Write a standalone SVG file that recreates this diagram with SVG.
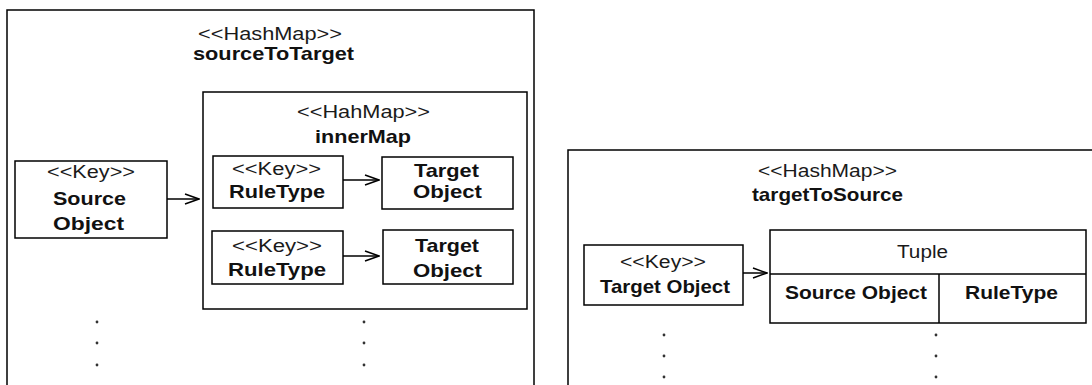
<svg xmlns="http://www.w3.org/2000/svg" width="1092" height="385" viewBox="0 0 1092 385">
  <style>
    .box { fill: #ffffff; stroke: #000000; stroke-width: 1.5; }
    .line { fill: none; stroke: #000000; stroke-width: 1.5; }
    .conn { fill: none; stroke: #000000; stroke-width: 1.5; marker-end: url(#open); }
    .t { font-family: "Liberation Sans", Arial, sans-serif; font-size: 17.5px; fill: #1a1a1a; text-anchor: start; }
    .b { font-family: "Liberation Sans", Arial, sans-serif; font-size: 19px; font-weight: bold; fill: #111111; text-anchor: start; }
    .dot { fill: #333333; }
  </style>
  <defs>
    <marker id="open" markerWidth="16" markerHeight="12" refX="15" refY="6" orient="auto" markerUnits="userSpaceOnUse">
      <path d="M1,1 L15,6 L1,11" fill="none" stroke="#000000" stroke-width="1.5"/>
    </marker>
  </defs>

  <rect width="1092" height="385" fill="#ffffff"/>

  <!-- sourceToTarget map -->
  <g id="sourceToTarget">
    <rect class="box" x="7" y="10" width="527" height="390"/>
    <text class="t" x="198" y="40" textLength="144" lengthAdjust="spacingAndGlyphs">&lt;&lt;HashMap&gt;&gt;</text>
    <text class="b" x="193" y="60" textLength="161" lengthAdjust="spacingAndGlyphs">sourceToTarget</text>
    <circle class="dot" cx="97" cy="322" r="1.4"/>
    <circle class="dot" cx="97" cy="343" r="1.4"/>
    <circle class="dot" cx="97" cy="365" r="1.4"/>
    <circle class="dot" cx="364" cy="322" r="1.4"/>
    <circle class="dot" cx="364" cy="343" r="1.4"/>
    <circle class="dot" cx="364" cy="365" r="1.4"/>
  </g>

  <g id="sourceKey">
    <rect class="box" x="15" y="161" width="152" height="77"/>
    <text class="t" x="47" y="178" textLength="88" lengthAdjust="spacingAndGlyphs">&lt;&lt;Key&gt;&gt;</text>
    <text class="b" x="53" y="205" textLength="73" lengthAdjust="spacingAndGlyphs">Source</text>
    <text class="b" x="53" y="230" textLength="71" lengthAdjust="spacingAndGlyphs">Object</text>
  </g>

  <g id="innerMap">
    <rect class="box" x="203" y="92" width="324" height="217"/>
    <text class="t" x="297" y="118" textLength="133" lengthAdjust="spacingAndGlyphs">&lt;&lt;HahMap&gt;&gt;</text>
    <text class="b" x="315" y="143" textLength="96" lengthAdjust="spacingAndGlyphs">innerMap</text>
  </g>

  <g id="ruleKey1">
    <rect class="box" x="213" y="156" width="130" height="52"/>
    <text class="t" x="232" y="175" textLength="89" lengthAdjust="spacingAndGlyphs">&lt;&lt;Key&gt;&gt;</text>
    <text class="b" x="229" y="198" textLength="96" lengthAdjust="spacingAndGlyphs">RuleType</text>
  </g>

  <g id="target1">
    <rect class="box" x="382" y="157" width="131" height="52"/>
    <text class="b" x="414" y="177" textLength="65" lengthAdjust="spacingAndGlyphs">Target</text>
    <text class="b" x="413" y="198" textLength="69" lengthAdjust="spacingAndGlyphs">Object</text>
  </g>

  <g id="ruleKey2">
    <rect class="box" x="212" y="231" width="131" height="53"/>
    <text class="t" x="232" y="252" textLength="90" lengthAdjust="spacingAndGlyphs">&lt;&lt;Key&gt;&gt;</text>
    <text class="b" x="228" y="276" textLength="98" lengthAdjust="spacingAndGlyphs">RuleType</text>
  </g>

  <g id="target2">
    <rect class="box" x="383" y="230" width="130" height="54"/>
    <text class="b" x="415" y="252" textLength="64" lengthAdjust="spacingAndGlyphs">Target</text>
    <text class="b" x="413" y="277" textLength="69" lengthAdjust="spacingAndGlyphs">Object</text>
  </g>

  <!-- targetToSource map -->
  <g id="targetToSource">
    <rect class="box" x="568" y="150" width="540" height="260"/>
    <text class="t" x="758" y="177" textLength="139" lengthAdjust="spacingAndGlyphs">&lt;&lt;HashMap&gt;&gt;</text>
    <text class="b" x="752" y="201" textLength="151" lengthAdjust="spacingAndGlyphs">targetToSource</text>
    <circle class="dot" cx="664" cy="335" r="1.4"/>
    <circle class="dot" cx="664" cy="356" r="1.4"/>
    <circle class="dot" cx="664" cy="377" r="1.4"/>
    <circle class="dot" cx="936" cy="335" r="1.4"/>
    <circle class="dot" cx="936" cy="356" r="1.4"/>
    <circle class="dot" cx="936" cy="377" r="1.4"/>
  </g>

  <g id="targetKey">
    <rect class="box" x="584" y="245" width="159" height="60"/>
    <text class="t" x="620" y="268" textLength="86" lengthAdjust="spacingAndGlyphs">&lt;&lt;Key&gt;&gt;</text>
    <text class="b" x="600" y="293" textLength="130" lengthAdjust="spacingAndGlyphs">Target Object</text>
  </g>

  <g id="tuple">
    <rect class="box" x="770" y="230" width="316" height="93"/>
    <line class="line" x1="770" y1="274" x2="1086" y2="274"/>
    <line class="line" x1="939" y1="274" x2="939" y2="323"/>
    <text class="t" x="897" y="258" textLength="51" lengthAdjust="spacingAndGlyphs">Tuple</text>
    <text class="b" x="785" y="299" textLength="142" lengthAdjust="spacingAndGlyphs">Source Object</text>
    <text class="b" x="965" y="299" textLength="93" lengthAdjust="spacingAndGlyphs">RuleType</text>
  </g>

  <!-- connectors -->
  <g id="connectors">
    <line class="conn" x1="167" y1="199" x2="199" y2="199"/>
    <line class="conn" x1="343" y1="180" x2="379" y2="180"/>
    <line class="conn" x1="343" y1="256" x2="379" y2="256"/>
    <line class="conn" x1="743" y1="273" x2="767" y2="273"/>
  </g>
</svg>
